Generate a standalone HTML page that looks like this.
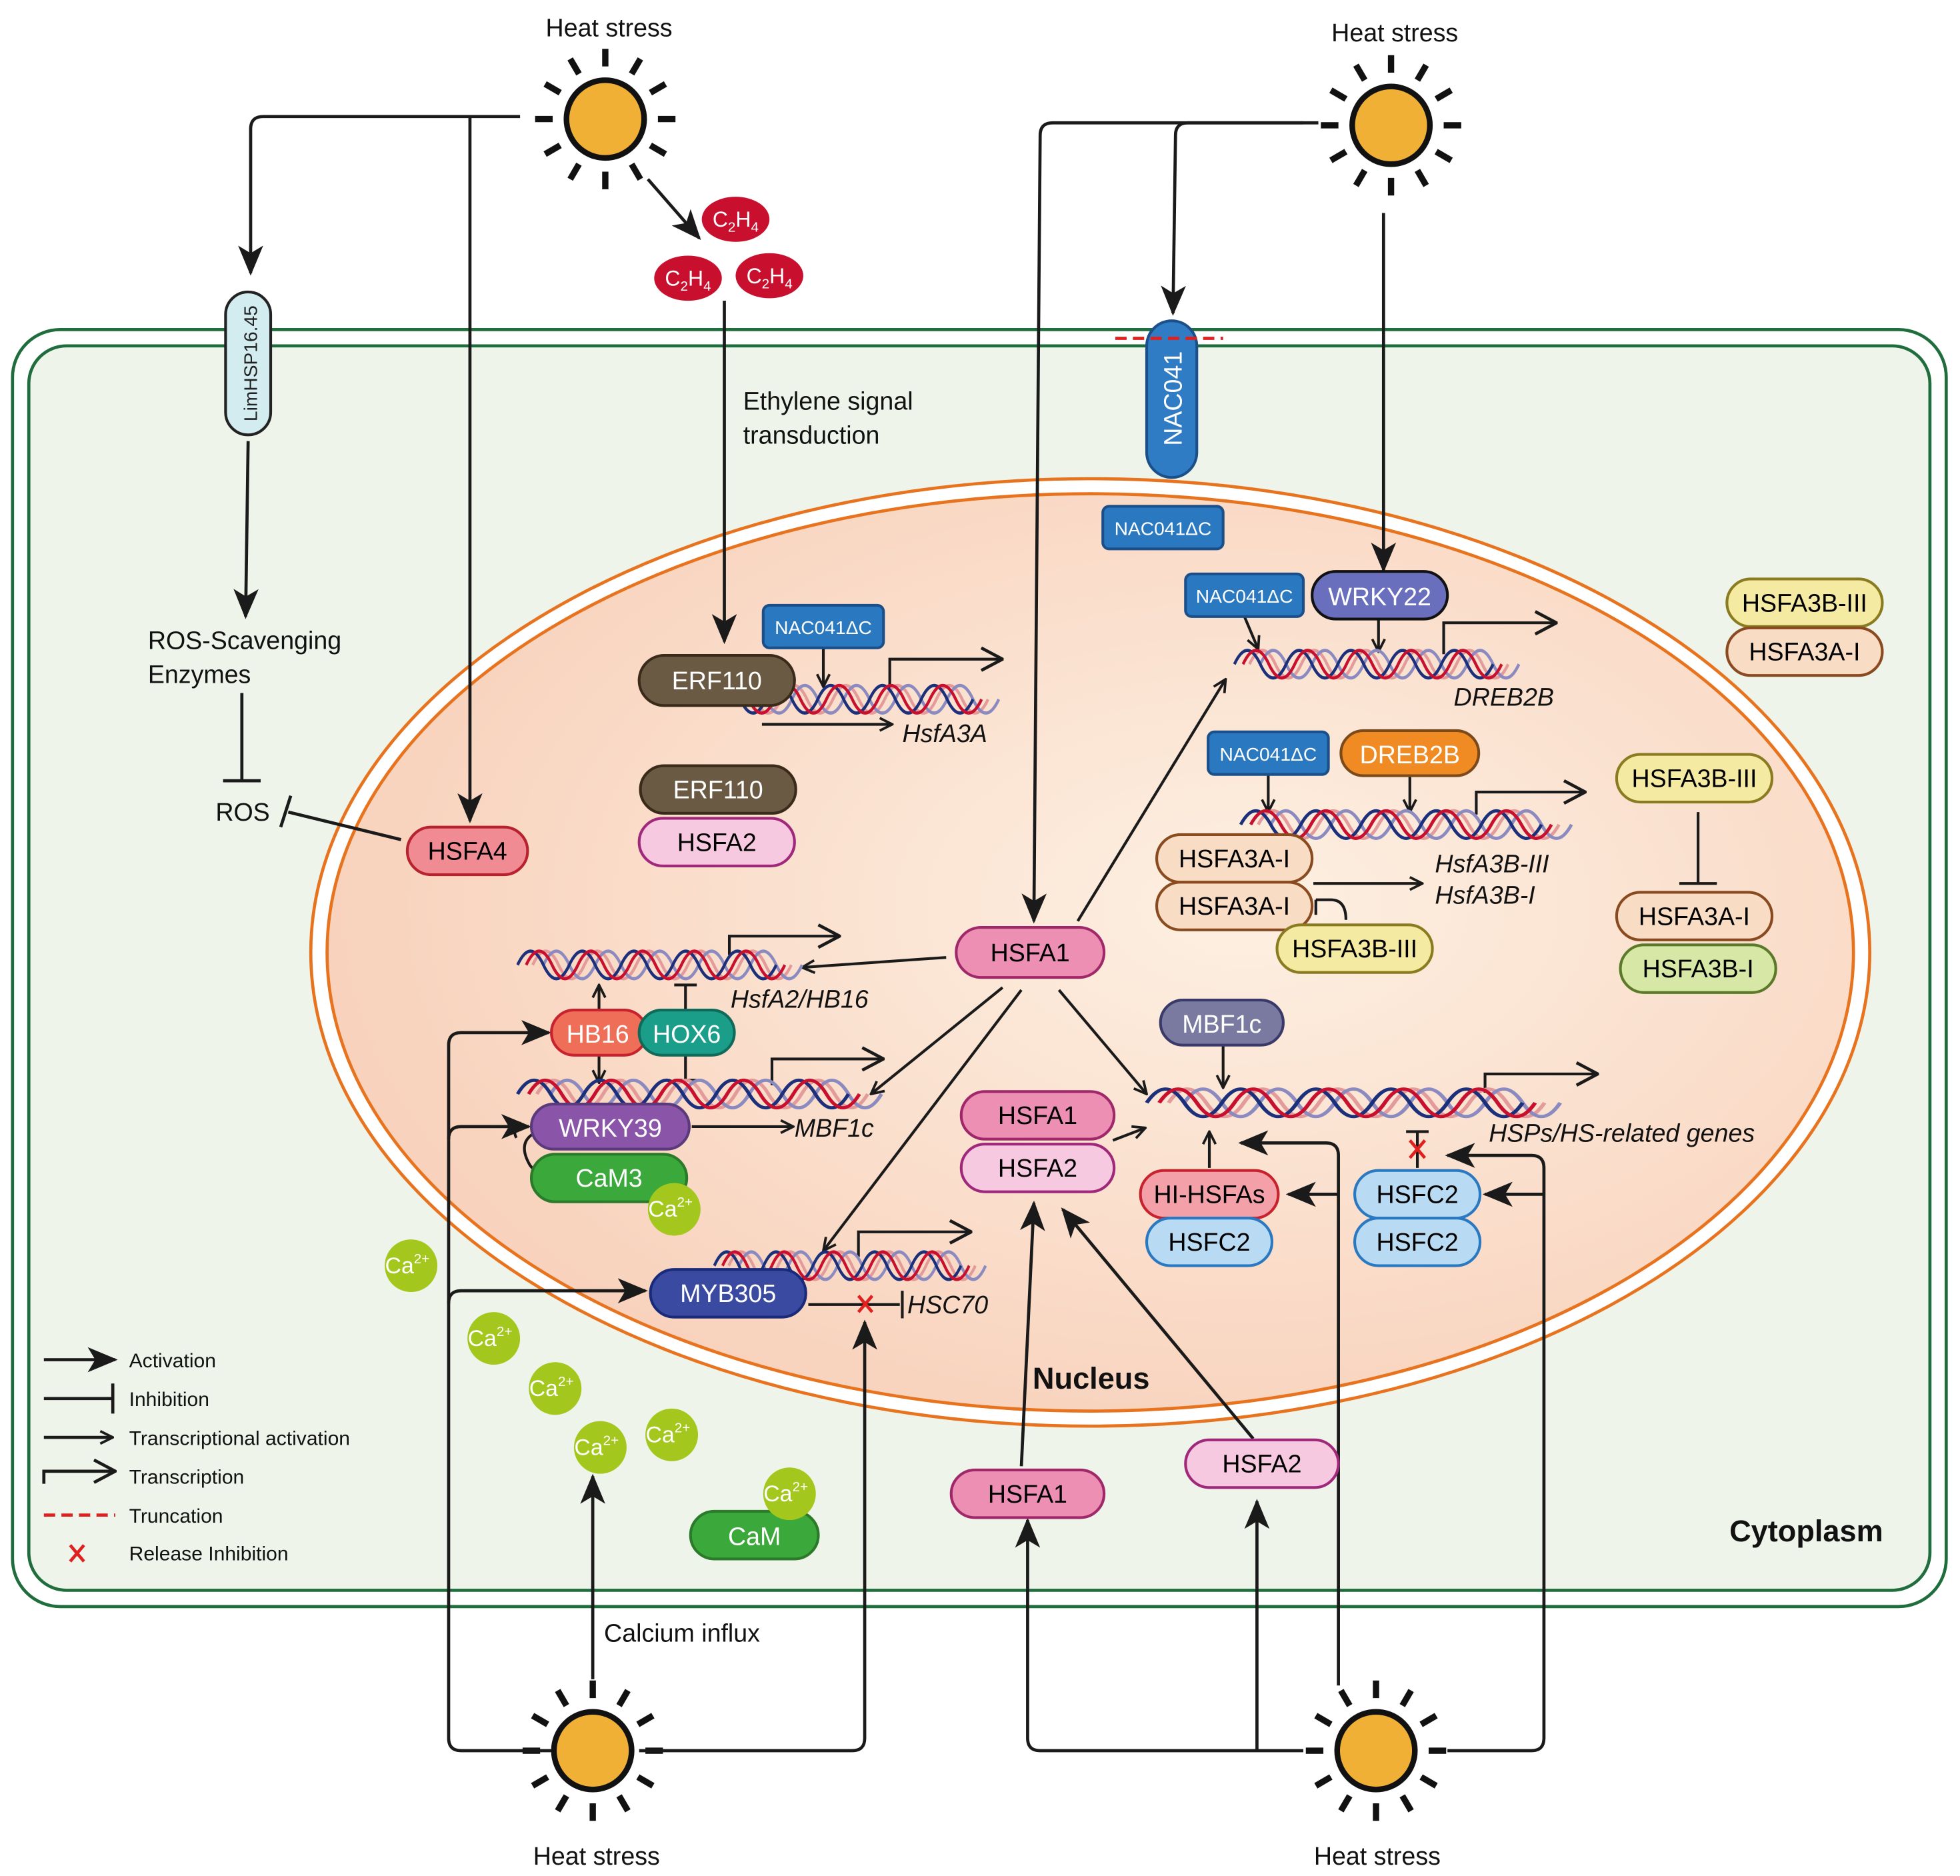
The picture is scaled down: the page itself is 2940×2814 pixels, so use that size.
<!DOCTYPE html>
<html><head><meta charset="utf-8"><style>
html,body{margin:0;padding:0;background:#fff}
svg{display:block}
text{font-family:"Liberation Sans",sans-serif}
</style></head><body>
<svg width="2940" height="2814" viewBox="0 0 1564 1497" preserveAspectRatio="none" xmlns="http://www.w3.org/2000/svg">
<defs>
<radialGradient id="nuc" cx="0.6" cy="0.45" r="0.6">
<stop offset="0" stop-color="#fdf0e2"/><stop offset="1" stop-color="#f8d2bc"/>
</radialGradient>
<marker id="A" markerWidth="10" markerHeight="10" refX="8" refY="5" orient="auto" markerUnits="userSpaceOnUse" viewBox="0 0 10 10">
<path d="M0,0 L10,5 L0,10 L3,5 Z" fill="#1a1a1a"/></marker>
<marker id="B" viewBox="0 0 24 24" markerWidth="24" markerHeight="24" refX="22" refY="12" orient="auto" markerUnits="userSpaceOnUse">
<path d="M0,2 L24,12 L0,22 L6,12 Z" fill="#1a1a1a"/></marker>
<marker id="T" viewBox="0 0 12 12" markerWidth="12" markerHeight="12" refX="11" refY="6" orient="auto" markerUnits="userSpaceOnUse">
<path d="M1,1 L11,6 L1,11" fill="none" stroke="#1a1a1a" stroke-width="2"/></marker>
<marker id="O" viewBox="0 0 20 20" markerWidth="20" markerHeight="20" refX="19" refY="10" orient="auto" markerUnits="userSpaceOnUse">
<path d="M2,1 L19,10 L2,19" fill="none" stroke="#1a1a1a" stroke-width="2.5"/></marker>
<g id="dna" fill="none" stroke-width="2.6">
<path d="M0,11 q12,-22 24,0 t24,0 t24,0 t24,0 t24,0 t24,0 t24,0 t24,0 t24,0 t24,0" stroke="#e39a9a" transform="translate(14,0)"/>
<path d="M0,11 q12,-22 24,0 t24,0 t24,0 t24,0 t24,0 t24,0 t24,0 t24,0 t24,0 t24,0" stroke="#8a8ac0" transform="translate(24,0)"/>
<path d="M0,11 q12,-22 24,0 t24,0 t24,0 t24,0 t24,0 t24,0 t24,0 t24,0 t24,0 t24,0" stroke="#1c2f7a"/>
<path d="M0,11 q12,-22 24,0 t24,0 t24,0 t24,0 t24,0 t24,0 t24,0 t24,0 t24,0 t24,0" stroke="#c8102e" transform="translate(8,0)"/>
</g>
<g id="sun">
<circle r="31" fill="#efb035" stroke="#111" stroke-width="4.5"/>
<g stroke="#111" stroke-width="5" stroke-linecap="butt">
<line x1="0" y1="-42" x2="0" y2="-56"/><line x1="0" y1="42" x2="0" y2="56"/>
<line x1="-42" y1="0" x2="-56" y2="0"/><line x1="42" y1="0" x2="56" y2="0"/>
<line x1="21" y1="-36" x2="28" y2="-48"/><line x1="-21" y1="-36" x2="-28" y2="-48"/>
<line x1="21" y1="36" x2="28" y2="48"/><line x1="-21" y1="36" x2="-28" y2="48"/>
<line x1="36" y1="-21" x2="48" y2="-28"/><line x1="-36" y1="-21" x2="-48" y2="-28"/>
<line x1="36" y1="21" x2="48" y2="28"/><line x1="-36" y1="21" x2="-48" y2="28"/>
</g></g>
<g id="ca"><circle r="21" fill="#a3c71c"/><text x="-3" y="6" font-size="18" fill="#fff" text-anchor="middle">Ca<tspan font-size="11" dy="-8">2+</tspan></text></g>
</defs>

<!-- cell -->
<rect x="10" y="263" width="1543" height="1019" rx="38" fill="#fff" stroke="#1f6d3c" stroke-width="2.5"/>
<rect x="23" y="276" width="1517" height="993" rx="30" fill="#eef4ea" stroke="#1f6d3c" stroke-width="2.5"/>
<ellipse cx="870" cy="760" rx="622" ry="378" fill="#fff" stroke="#e8731f" stroke-width="2.5"/>
<ellipse cx="870" cy="760" rx="609" ry="366" fill="url(#nuc)" stroke="#e8731f" stroke-width="2.5"/>

<!-- suns -->
<use href="#sun" x="483" y="95"/><use href="#sun" x="1110" y="100"/>
<use href="#sun" x="473" y="1397"/><use href="#sun" x="1098" y="1397"/>
<g font-size="20" text-anchor="middle" fill="#111">
<text x="486" y="29">Heat stress</text><text x="1113" y="33">Heat stress</text>
<text x="476" y="1488">Heat stress</text><text x="1099" y="1488">Heat stress</text>
</g>

<!-- connectors -->
<g fill="none" stroke="#1a1a1a" stroke-width="2.5">
<path d="M415,93 H210 q-10,0 -10,10 V218" marker-end="url(#B)"/>
<path d="M375,93 V655" marker-end="url(#B)"/>
<path d="M517,143 L558,190" marker-end="url(#B)"/>
<path d="M578,240 V512" marker-end="url(#B)"/>
<path d="M198,352 L196,492" marker-end="url(#B)"/>
<path d="M193,553 V623 M178,623 H208"/>
<path d="M320,670 L230,648 M224,660 L232,635"/>
<path d="M1052,98 H840 q-10,0 -10,10 L825,735" marker-end="url(#B)"/>
<path d="M1040,98 H948 q-10,0 -10,10 L936,250" marker-end="url(#B)"/>
<path d="M1104,170 V455" marker-end="url(#B)"/>
<path d="M440,1397 H368 q-10,0 -10,-10 V834 q0,-10 10,-10 H438" marker-end="url(#B)"/>
<path d="M358,909 q0,-10 10,-10 H422" marker-end="url(#B)"/>
<path d="M358,1040 q0,-10 10,-10 H515" marker-end="url(#B)"/>
<path d="M510,1397 H680 q10,0 10,-10 V1055" marker-end="url(#B)"/>
<path d="M473,1340 V1178" marker-end="url(#B)"/>
<path d="M1040,1397 H830 q-10,0 -10,-10 V1213" marker-end="url(#B)"/>
<path d="M1003,1397 V1198" marker-end="url(#B)"/>
<path d="M1068,1345 V922 q0,-10 -10,-10 H990" marker-end="url(#B)"/>
<path d="M1068,953 H1028" marker-end="url(#B)"/>
<path d="M1155,1397 H1222 q10,0 10,-10 V932 q0,-10 -10,-10 H1155" marker-end="url(#B)"/>
<path d="M1232,953 H1185" marker-end="url(#B)"/>
<path d="M815,1170 L825,960" marker-end="url(#B)"/>
<path d="M1000,1148 L848,965" marker-end="url(#B)"/>
</g>
<g fill="none" stroke="#1a1a1a" stroke-width="2.2">
<path d="M755,764 L640,772" marker-end="url(#T)"/>
<path d="M860,735 L978,542" marker-end="url(#T)"/>
<path d="M800,788 L695,873" marker-end="url(#T)"/>
<path d="M815,790 L657,998" marker-end="url(#T)"/>
<path d="M845,790 L915,873" marker-end="url(#T)"/>
<path d="M888,910 L914,900" marker-end="url(#T)"/>
<path d="M657,517 V548" marker-end="url(#T)"/>
<path d="M993,492 L1004,518" marker-end="url(#T)"/>
<path d="M1100,494 V520" marker-end="url(#T)"/>
<path d="M1012,618 V648" marker-end="url(#T)"/>
<path d="M1125,619 V648" marker-end="url(#T)"/>
<path d="M976,834 V868" marker-end="url(#T)"/>
<path d="M965,932 V903" marker-end="url(#T)"/>
<path d="M478,806 V786" marker-end="url(#T)"/>
<path d="M478,842 V864" marker-end="url(#T)"/>
<path d="M547,806 V786 M538,786 H556"/>
<path d="M547,842 V862 M538,862 H556"/>
<path d="M1131,932 V903 M1122,903 H1140"/>
<path d="M552,899 H633" marker-end="url(#T)"/>
<path d="M608,578 H712" marker-end="url(#T)"/>
<path d="M1048,705 H1135" marker-end="url(#T)"/>
<path d="M1050,718 V730 M1050,718 H1062 q12,0 12,16"/>
<path d="M1355,648 V705 M1340,705 H1370"/>
<path d="M645,1041 H718 M720,1030 V1052"/>
<path d="M425,905 q-12,8 -2,25 q6,8 15,9 M416,896 q-8,4 -4,12"/>
</g>
<!-- transcription bent arrows -->
<g fill="none" stroke="#1a1a1a" stroke-width="2.2">
<path d="M710,550 V526 H800" marker-end="url(#O)"/>
<path d="M1152,522 V497 H1242" marker-end="url(#O)"/>
<path d="M1178,650 V632 H1265" marker-end="url(#O)"/>
<path d="M582,762 V747 H670" marker-end="url(#O)"/>
<path d="M616,866 V845 H705" marker-end="url(#O)"/>
<path d="M1185,872 V857 H1275" marker-end="url(#O)"/>
<path d="M685,1003 V983 H775" marker-end="url(#O)"/>
</g>

<!-- DNA -->
<use href="#dna" transform="translate(570,547) scale(0.86,1)"/>
<use href="#dna" transform="translate(985,519) scale(0.86,1)"/>
<use href="#dna" transform="translate(990,647)"/>
<use href="#dna" transform="translate(413,759) scale(0.86,1)"/>
<use href="#dna" transform="translate(413,862) scale(1.1,1)"/>
<use href="#dna" transform="translate(915,869) scale(1.25,1)"/>
<use href="#dna" transform="translate(570,999) scale(0.82,1)"/>

<!-- nodes -->
<g font-size="20" text-anchor="middle" stroke-width="2.2">
<rect x="180" y="233" width="36" height="114" rx="18" fill="#d3ecf0" stroke="#222"/>
<text transform="translate(205,290) rotate(-90)" font-size="15" fill="#222">LimHSP16.45</text>
<rect x="915" y="256" width="40" height="125" rx="20" fill="#2f7bc4" stroke="#1b4f8a"/>
<text transform="translate(943,318) rotate(-90)" font-size="20" fill="#fff">NAC041</text>
<path d="M890,270 H976" stroke="#e0201e" stroke-width="2.5" stroke-dasharray="9,5" fill="none"/>

<rect x="325" y="660" width="96" height="38" rx="19" fill="#f08a93" stroke="#b8222e"/><text x="373" y="686">HSFA4</text>

<g fill="#2a78c0" stroke="#1b4f8a">
<rect x="880" y="404" width="96" height="34" rx="5"/><rect x="946" y="458" width="94" height="34" rx="5"/>
<rect x="609" y="483" width="96" height="34" rx="5"/><rect x="964" y="584" width="96" height="34" rx="5"/>
</g>
<g font-size="15" fill="#fff"><text x="928" y="427">NAC041ΔC</text><text x="993" y="481">NAC041ΔC</text><text x="657" y="506">NAC041ΔC</text><text x="1012" y="607">NAC041ΔC</text></g>

<rect x="1047" y="456" width="108" height="38" rx="19" fill="#6a6fbd" stroke="#111"/><text x="1101" y="483" fill="#fff">WRKY22</text>
<rect x="1070" y="583" width="110" height="36" rx="18" fill="#f08a22" stroke="#7a4a1a"/><text x="1125" y="609" fill="#fff">DREB2B</text>
<rect x="510" y="523" width="124" height="40" rx="20" fill="#6b5a43" stroke="#3a2a1a"/><text x="572" y="550" fill="#fff">ERF110</text>
<rect x="511" y="611" width="124" height="38" rx="19" fill="#6b5a43" stroke="#3a2a1a"/><text x="573" y="637" fill="#fff">ERF110</text>
<rect x="510" y="653" width="124" height="38" rx="19" fill="#f6c9e0" stroke="#a0287a"/><text x="572" y="679">HSFA2</text>

<rect x="1378" y="462" width="124" height="38" rx="19" fill="#f5eaa2" stroke="#8a7a20"/><text x="1440" y="488">HSFA3B-III</text>
<rect x="1378" y="501" width="124" height="38" rx="19" fill="#f8dcc4" stroke="#8a4a20"/><text x="1440" y="527">HSFA3A-I</text>
<rect x="1290" y="602" width="124" height="38" rx="19" fill="#f5eaa2" stroke="#8a7a20"/><text x="1352" y="628">HSFA3B-III</text>
<rect x="1290" y="712" width="124" height="38" rx="19" fill="#f8dcc4" stroke="#8a4a20"/><text x="1352" y="738">HSFA3A-I</text>
<rect x="1293" y="754" width="124" height="38" rx="19" fill="#d7e8a6" stroke="#5a7a2a"/><text x="1355" y="780">HSFA3B-I</text>
<rect x="923" y="666" width="124" height="38" rx="19" fill="#f8dcc4" stroke="#8a4a20"/><text x="985" y="692">HSFA3A-I</text>
<rect x="923" y="704" width="124" height="38" rx="19" fill="#f8dcc4" stroke="#8a4a20"/><text x="985" y="730">HSFA3A-I</text>
<rect x="1019" y="738" width="124" height="38" rx="19" fill="#f5eaa2" stroke="#8a7a20"/><text x="1081" y="764">HSFA3B-III</text>

<rect x="763" y="740" width="118" height="40" rx="20" fill="#ec8fb3" stroke="#a0286a"/><text x="822" y="767">HSFA1</text>
<rect x="767" y="871" width="122" height="38" rx="19" fill="#ec8fb3" stroke="#a0286a"/><text x="828" y="897">HSFA1</text>
<rect x="767" y="913" width="122" height="38" rx="19" fill="#f6c9e0" stroke="#a0287a"/><text x="828" y="939">HSFA2</text>
<rect x="759" y="1173" width="122" height="38" rx="19" fill="#ec8fb3" stroke="#a0286a"/><text x="820" y="1199">HSFA1</text>
<rect x="946" y="1149" width="122" height="38" rx="19" fill="#f6c9e0" stroke="#a0287a"/><text x="1007" y="1175">HSFA2</text>

<rect x="926" y="798" width="98" height="36" rx="18" fill="#7a7aa0" stroke="#3a3a6a"/><text x="975" y="824" fill="#fff">MBF1c</text>
<rect x="910" y="934" width="110" height="38" rx="19" fill="#f4a0a8" stroke="#c8222e"/><text x="965" y="960">HI-HSFAs</text>
<rect x="915" y="972" width="100" height="38" rx="19" fill="#b8daf2" stroke="#2a78c0"/><text x="965" y="998">HSFC2</text>
<rect x="1081" y="934" width="100" height="38" rx="19" fill="#b8daf2" stroke="#2a78c0"/><text x="1131" y="960">HSFC2</text>
<rect x="1081" y="972" width="100" height="38" rx="19" fill="#b8daf2" stroke="#2a78c0"/><text x="1131" y="998">HSFC2</text>

<rect x="440" y="806" width="76" height="36" rx="18" fill="#ee6e58" stroke="#c8222e"/><text x="477" y="832" fill="#fff">HB16</text>
<rect x="510" y="806" width="76" height="36" rx="18" fill="#1a9e8a" stroke="#0f6a5a"/><text x="548" y="832" fill="#fff">HOX6</text>
<rect x="424" y="881" width="126" height="36" rx="18" fill="#8a55a8" stroke="#5a3a7a"/><text x="487" y="907" fill="#fff">WRKY39</text>
<rect x="424" y="921" width="124" height="38" rx="19" fill="#3aa83a" stroke="#2a7a2a"/><text x="486" y="947" fill="#fff">CaM3</text>
<rect x="519" y="1013" width="124" height="38" rx="19" fill="#3a4aa0" stroke="#1a2a7a"/><text x="581" y="1039" fill="#fff">MYB305</text>
<rect x="551" y="1206" width="102" height="38" rx="19" fill="#3aa83a" stroke="#2a7a2a"/><text x="602" y="1233" fill="#fff">CaM</text>
</g>
<use href="#ca" x="538" y="965"/><use href="#ca" x="328" y="1010"/><use href="#ca" x="394" y="1068"/>
<use href="#ca" x="443" y="1108"/><use href="#ca" x="479" y="1155"/><use href="#ca" x="536" y="1145"/><use href="#ca" x="630" y="1192"/>

<!-- C2H4 -->
<g fill="#c8102e"><ellipse cx="587" cy="175" rx="27" ry="18"/><ellipse cx="549" cy="222" rx="27" ry="18"/><ellipse cx="614" cy="220" rx="27" ry="18"/></g>
<g font-size="17" fill="#fff" text-anchor="middle">
<text x="587" y="181">C<tspan font-size="11" dy="4">2</tspan><tspan dy="-4">H</tspan><tspan font-size="11" dy="4">4</tspan></text>
<text x="549" y="228">C<tspan font-size="11" dy="4">2</tspan><tspan dy="-4">H</tspan><tspan font-size="11" dy="4">4</tspan></text>
<text x="614" y="226">C<tspan font-size="11" dy="4">2</tspan><tspan dy="-4">H</tspan><tspan font-size="11" dy="4">4</tspan></text>
</g>

<!-- red X marks -->
<g stroke="#e0201e" stroke-width="2.5"><path d="M685,1034 L696,1047 M696,1034 L685,1047"/><path d="M1125,910 L1137,924 M1137,910 L1125,924"/></g>

<!-- labels -->
<g font-size="20" fill="#111">
<text x="593" y="327">Ethylene signal</text><text x="593" y="354">transduction</text>
<text x="118" y="518">ROS-Scavenging</text><text x="118" y="545">Enzymes</text>
<text x="172" y="655">ROS</text>
<text x="482" y="1310">Calcium influx</text>
<g font-style="italic">
<text x="720" y="592">HsfA3A</text><text x="1160" y="563">DREB2B</text>
<text x="1145" y="696">HsfA3B-III</text><text x="1145" y="721">HsfA3B-I</text>
<text x="583" y="804">HsfA2/HB16</text><text x="634" y="907">MBF1c</text>
<text x="1188" y="911">HSPs/HS-related genes</text><text x="724" y="1048">HSC70</text>
</g>
<text x="824" y="1108" font-weight="bold" font-size="24">Nucleus</text>
<text x="1380" y="1230" font-weight="bold" font-size="24">Cytoplasm</text>
</g>

<!-- legend -->
<g fill="none" stroke="#1a1a1a" stroke-width="2.5">
<path d="M35,1085 H92" marker-end="url(#B)"/>
<path d="M35,1116 H90 M90,1104 V1128"/>
<path d="M35,1147 H90" marker-end="url(#T)"/>
<path d="M35,1184 V1174 H92" marker-end="url(#O)"/>
<path d="M35,1209 H92" stroke="#e0201e" stroke-dasharray="9,5"/>
<path d="M56,1233 L67,1246 M67,1233 L56,1246" stroke="#e0201e"/>
</g>
<g font-size="16" fill="#111">
<text x="103" y="1091">Activation</text><text x="103" y="1122">Inhibition</text>
<text x="103" y="1153">Transcriptional activation</text><text x="103" y="1184">Transcription</text>
<text x="103" y="1215">Truncation</text><text x="103" y="1245">Release Inhibition</text>
</g>
</svg>
</body></html>
